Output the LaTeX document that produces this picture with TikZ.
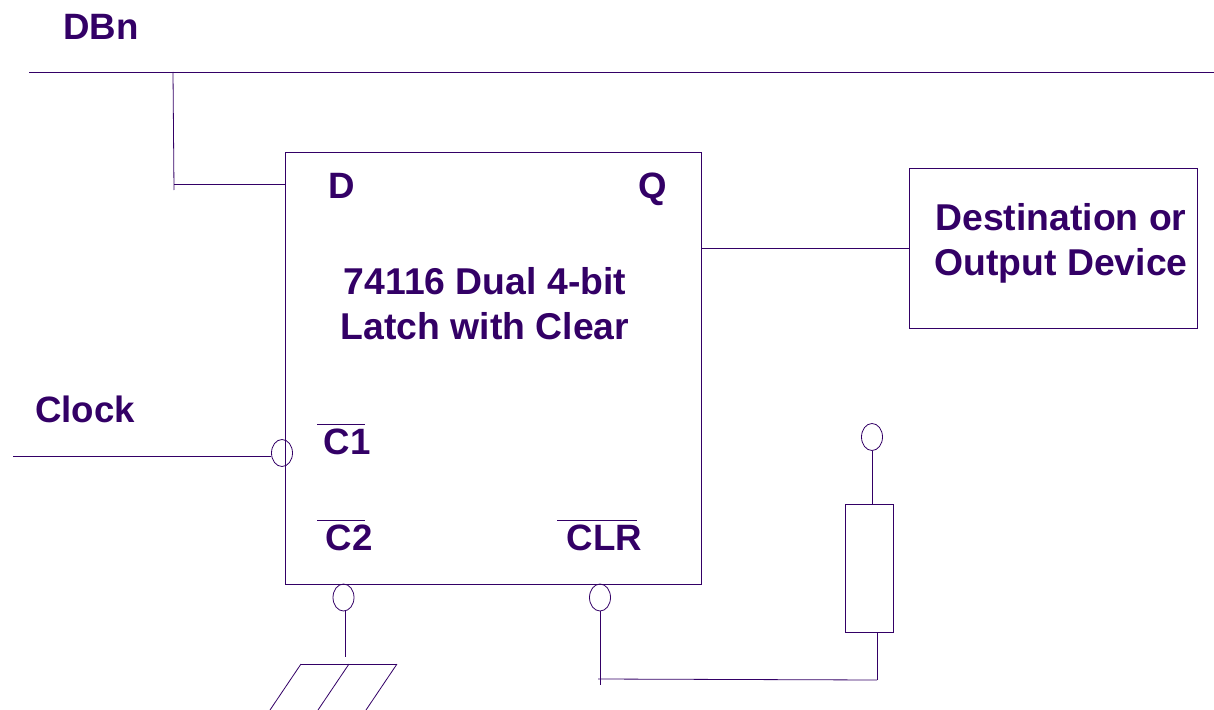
\documentclass[tikz,border=0pt]{standalone}
\usepackage{fontspec}
\setmainfont{Liberation Sans}
\usetikzlibrary{shapes.geometric}
\definecolor{wirecol}{RGB}{51,0,102}
\begin{document}
\begin{tikzpicture}[x=.75pt,y=-.75pt]
    \tikzset{wire/.style={draw=wirecol, line width=.6pt},
    lab/.style={text=wirecol, font=\bfseries\fontsize{27.5}{33.75}\selectfont, inner sep=0pt, align=center},
    biglab/.style={lab, font=\bfseries\fontsize{28}{33.75}\selectfont},
    bubble/.style={wire, ellipse, minimum width=15.75pt, minimum height=20.25pt, inner sep=0pt},
    boxnode/.style={wire, rectangle, inner sep=0pt}}
    \useasboundingbox (0,0) rectangle (1214,710);

    \node[lab] (dbnlab) at (101,26.5) {DBn};
    \coordinate (busl) at (29,72);
    \coordinate (busr) at (1214,72);
    \coordinate (stubtop) at (173,72);
    \coordinate (stubbot) at (174,190);
    \coordinate (dpin) at (174,184);
    \draw[wire] (busl) -- (busr);
    \draw[wire] (stubtop) -- (stubbot);

    \node[boxnode, minimum width=312pt, minimum height=324pt] (latch) at (493,368) {};
    \node[lab] (dlab) at (342,186) {D};
    \node[lab] (qlab) at (653,189) {Q};
    \node[biglab] (title) at (485,303.5) {74116 Dual 4-bit\\Latch with Clear};
    \node[lab] (clocklab) at (85,409) {Clock};
    \node[lab] (c1lab) at (347,442) {C1};
    \node[lab] (c2lab) at (349,538) {C2};
    \node[lab] (clrlab) at (604.5,538) {CLR};
    \draw[wire] (dpin) -- (dpin -| latch.west);

    \coordinate (barca) at (317,424);
    \coordinate (barcb) at (365,424);
    \coordinate (barda) at (317,520);
    \coordinate (bardb) at (365,520);
    \coordinate (barea) at (557,520);
    \coordinate (bareb) at (637,520);
    \draw[wire] (barca) -- (barcb);
    \draw[wire] (barda) -- (bardb);
    \draw[wire] (barea) -- (bareb);

    \node[boxnode, minimum width=216pt, minimum height=120pt] (dest) at (1053,248) {};
    \node[biglab] (destlab) at (1061,243) {Destination or\\Output Device};
    \draw[wire] (latch.east |- dest.west) -- (dest.west);

    \node[bubble] (c1bub) at (282,453) {};
    \coordinate (clockl) at (13,456);
    \draw[wire] (clockl) -- (clockl -| c1bub.west);

    \node[bubble] (c2bub) at (343.5,597.5) {};
    \coordinate (c2stem) at (345,611);
    \coordinate (gnda) at (345,657);
    \coordinate (gndl) at (301,664);
    \coordinate (gndm) at (349,664);
    \coordinate (gndr) at (397,664);
    \draw[wire] (c2stem) -- (gnda);
    \draw[wire] (gndl) -- (gndr);
    \draw[wire] (gndl) -- (270,710);
    \draw[wire] (gndm) -- (318,710);
    \draw[wire] (gndr) -- (366,710);

    \node[bubble] (clrbub) at (600,597.5) {};
    \node[boxnode, minimum width=36pt, minimum height=96pt] (res) at (869,568) {};
    \node[bubble] (vccbub) at (872,437) {};
    \coordinate (clrbot) at (600,685);
    \coordinate (turnl) at (598,679);
    \coordinate (turnr) at (877,680);
    \draw[wire] (clrbub.south) -- (clrbot);
    \draw[wire] (turnl) -- (turnr);
    \draw[wire] (turnr) -- (turnr |- res.south);
    \draw[wire] (vccbub.south) -- (vccbub.south |- res.north);
\end{tikzpicture}
\end{document}
